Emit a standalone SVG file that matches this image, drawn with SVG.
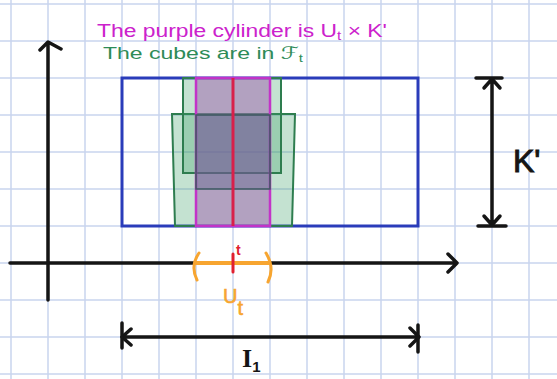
<svg xmlns="http://www.w3.org/2000/svg" width="557" height="379" viewBox="0 0 557 379">
<style>
.grid line{stroke:#c9d5ee;stroke-width:1.5}
.ax{stroke:#151515;stroke-width:3.5;fill:none;stroke-linecap:round;stroke-linejoin:round}
.hw{font-family:"Liberation Sans","DejaVu Sans",sans-serif}
.cube{fill:#3c9e68;fill-opacity:0.3;stroke:#2e7d4f;stroke-width:2}
</style>
<rect width="557" height="379" fill="#ffffff"/>
<g class="grid" id="grid">
<line x1="11" y1="0" x2="11" y2="379"/><line x1="48" y1="0" x2="48" y2="379"/><line x1="85" y1="0" x2="85" y2="379"/><line x1="122" y1="0" x2="122" y2="379"/><line x1="159" y1="0" x2="159" y2="379"/><line x1="196" y1="0" x2="196" y2="379"/><line x1="233" y1="0" x2="233" y2="379"/><line x1="270" y1="0" x2="270" y2="379"/><line x1="307" y1="0" x2="307" y2="379"/><line x1="344" y1="0" x2="344" y2="379"/><line x1="381" y1="0" x2="381" y2="379"/><line x1="418" y1="0" x2="418" y2="379"/><line x1="455" y1="0" x2="455" y2="379"/><line x1="492" y1="0" x2="492" y2="379"/><line x1="529" y1="0" x2="529" y2="379"/>
<line x1="0" y1="4" x2="557" y2="4"/><line x1="0" y1="41" x2="557" y2="41"/><line x1="0" y1="78" x2="557" y2="78"/><line x1="0" y1="115" x2="557" y2="115"/><line x1="0" y1="152" x2="557" y2="152"/><line x1="0" y1="189" x2="557" y2="189"/><line x1="0" y1="226" x2="557" y2="226"/><line x1="0" y1="263" x2="557" y2="263"/><line x1="0" y1="300" x2="557" y2="300"/><line x1="0" y1="337" x2="557" y2="337"/><line x1="0" y1="374" x2="557" y2="374"/>
</g>
<g id="box-IxK">
<rect x="122" y="78" width="296" height="148" fill="none" stroke="#2a3cba" stroke-width="3"/>
</g>
<g id="cube-lower">
<path class="cube" d="M172 114 L295 114 L292 226 L175 226 Z"/>
</g>
<g id="cube-upper">
<rect class="cube" x="183" y="78" width="98" height="95"/>
</g>
<g id="cylinder">
<rect x="196" y="78" width="74" height="148" fill="#a060b0" fill-opacity="0.5" stroke="#c233c8" stroke-width="2.5"/>
<rect x="196" y="115" width="74" height="74" fill="#3a4a78" fill-opacity="0.28" stroke="#3e5a60" stroke-width="1.5"/>
<line x1="233" y1="78" x2="233" y2="226" stroke="#d8204a" stroke-width="3"/>
</g>
<g id="connectors">
<path class="ax" d="M48 300 L48 43 M40 50 L48 42 L61 49"/>
<path class="ax" d="M10 263 L457 263 M448 254 L457 263 L448 272"/>
<path class="ax" d="M492 79 L492 225 M484 88 L492 79 L500 88 M484 216 L492 225 L500 216" stroke-width="3"/>
<path class="ax" d="M476 78 L502 78 M478 226 L506 226" stroke-width="2"/>
<path class="ax" d="M122 337 L418 337 M131 329 L122 337 L131 345 M410 328 L419 337 L410 346" stroke-width="3"/>
<path class="ax" d="M122 323 L122 348 M418 325 L418 352" stroke-width="2"/>
</g>
<g id="interval-Ut">
<line x1="194" y1="263" x2="270" y2="263" stroke="#f7a530" stroke-width="4"/>
<path d="M199 253 Q190 266 197 280" fill="none" stroke="#f7a530" stroke-width="3" stroke-linecap="round"/>
<path d="M266 253 Q275 268 268 282" fill="none" stroke="#f7a530" stroke-width="3" stroke-linecap="round"/>
<line x1="233" y1="254" x2="233" y2="272" stroke="#e02030" stroke-width="3" stroke-linecap="round"/>
<text class="hw" x="236" y="255" font-size="14" font-weight="bold" fill="#e02030">t</text>
</g>
<g id="label-Ut">
<text class="hw" x="223" y="303" font-size="20" fill="#f7a530" stroke="#f7a530" stroke-width="0.6">U<tspan font-size="20" dy="12">t</tspan></text>
</g>
<g id="label-K">
<text class="hw" x="513" y="172" font-size="32" fill="#151515" stroke="#151515" stroke-width="1">K'</text>
</g>
<g id="label-I1">
<text x="242" y="367" font-family="Liberation Serif,serif" font-size="26" font-weight="bold" fill="#151515">I<tspan font-family="Liberation Sans,sans-serif" font-size="15" font-weight="bold" dy="5">1</tspan></text>
</g>
<g id="caption">
<text class="hw" x="97" y="37" font-size="18" fill="#cc22cc" textLength="290" lengthAdjust="spacingAndGlyphs">The purple cylinder is U<tspan font-size="12" dy="3">t</tspan><tspan dy="-3"> × K'</tspan></text>
<text class="hw" x="103" y="59" font-size="17" fill="#2e8b57" textLength="200" lengthAdjust="spacingAndGlyphs">The cubes are in <tspan font-family="DejaVu Sans,sans-serif">ℱ</tspan><tspan font-size="11" dy="3">t</tspan></text>
</g>
</svg>
